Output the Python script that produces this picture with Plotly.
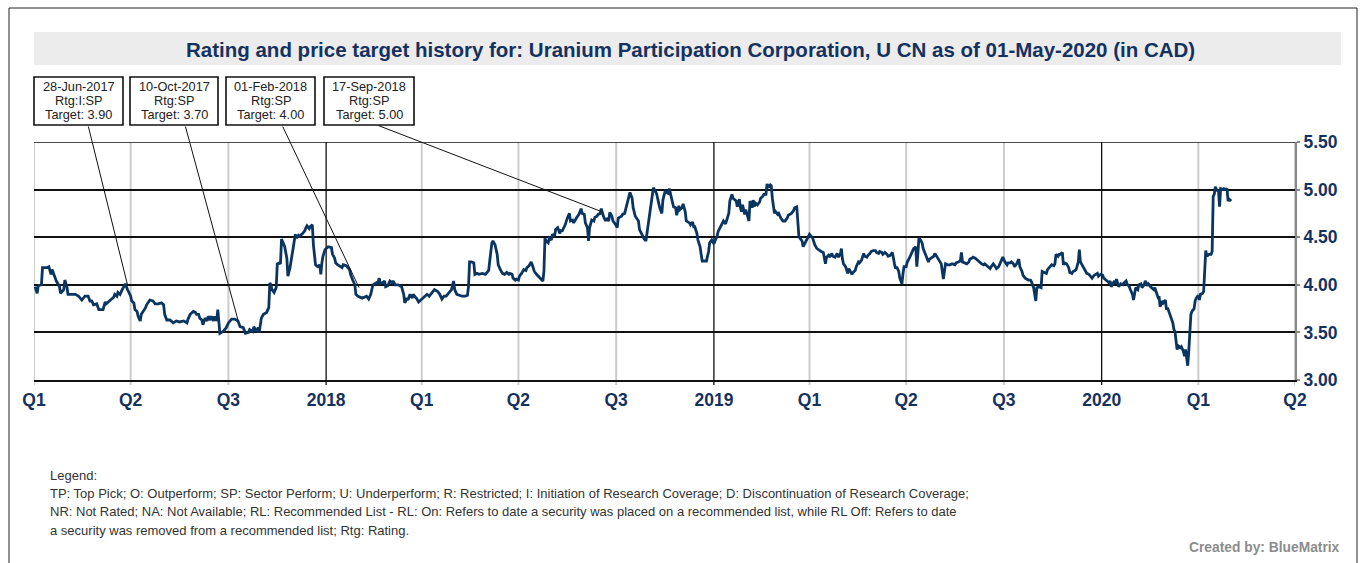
import pandas as pd
import plotly.graph_objects as go

# ---------------- data ----------------
start_date = pd.Timestamp("2017-04-01")
end_date = pd.Timestamp("2020-07-01")

# days after 2017-04-01 and closing price (CAD)
day_offsets = [
    1, 3, 4, 7, 8, 12, 14, 16, 17, 19, 21, 24, 25, 28, 29, 31, 32, 35, 39, 42, 45, 48, 51, 53, 54, 56, 59, 61,
    64, 65, 67, 68, 72, 75, 76, 78, 79, 81, 83, 86, 88, 90, 91, 92, 94, 95, 97, 98, 100, 101, 103, 105, 106,
    109, 112, 114, 117, 120, 122, 123, 125, 128, 131, 134, 137, 141, 144, 145, 147, 150, 152, 153, 155, 156,
    158, 159, 161, 163, 164, 166, 167, 169, 170, 172, 173, 174, 175, 178, 181,
    183, 186, 189, 192, 194, 197, 199, 202, 203, 206, 207, 209, 211, 212, 214, 216, 219, 221, 222, 223, 224,
    226, 228, 229, 231, 232, 233, 235, 236, 238, 239, 241, 243, 244, 246, 247, 249, 250, 253, 255, 256, 257,
    259, 260, 262, 263, 265, 267, 269, 270, 271, 272, 274, 277, 280, 281, 283, 284, 286, 288, 290, 291, 294,
    297, 298, 300, 302, 303, 305, 309, 312, 313, 315, 317, 319, 322, 323, 325, 326, 328, 330, 331, 333, 335,
    337, 338, 340, 343, 346, 348, 349, 351, 352, 354, 356, 357, 359, 360, 362, 363,
    366, 370, 372, 374, 377, 380, 382, 384, 386, 388, 391, 393, 395, 396, 398, 400, 403, 406, 408, 409, 410,
    412, 414, 415, 417, 419, 422, 425, 426, 428, 429, 431, 432, 434, 436, 437, 439, 441, 443, 445, 447, 448,
    450, 451, 453, 454, 456, 457, 459, 461, 463, 464, 466, 468, 469, 471, 473, 475, 477, 479, 480, 481, 482,
    484, 485, 487, 488, 490, 491, 493, 495, 496, 497, 499, 500, 502, 504, 505, 507, 508, 510, 511, 513, 515,
    516, 518, 519, 521, 522, 523, 525, 527, 528, 530, 531, 533, 534, 536, 538, 539, 541, 542, 544, 545, 547,
    549, 550, 553, 554, 556, 558, 560, 561, 563, 564, 566, 567, 569, 570, 572, 574, 576, 577, 578, 580, 581,
    583, 585, 586, 588, 589, 591, 592, 594, 596, 597, 598, 600, 601, 602, 604, 605, 607, 608, 610, 611, 613,
    614, 617, 618, 620, 621, 622, 624, 625, 627, 628, 629, 631, 633, 635, 636, 638, 640, 641, 643, 644, 646,
    647, 649, 651, 652, 654, 655, 657, 658, 660, 661, 662, 664, 665, 666, 667, 669, 670, 672, 673, 674, 676,
    677, 678, 679, 681, 683, 684, 686, 687, 689, 690, 691, 693, 694, 695, 697, 698, 700, 701, 703, 704, 705,
    707, 709, 710, 712, 713, 715, 716, 718, 719, 720, 721, 723, 724, 726, 727, 729, 730,
    733, 735, 737, 739, 741, 743, 745, 746, 748, 749, 751, 752, 754, 756, 757, 759, 760, 761, 762, 764, 766,
    767, 768, 770, 771, 773, 774, 776, 777, 779, 781, 782, 784, 785, 787, 788, 790, 792, 793, 795, 796, 798,
    799, 801, 803, 804, 806, 807, 808, 810, 811, 812, 814, 815, 817, 818, 819, 821, 822, 824, 825, 827, 828,
    830, 831, 832, 833, 834, 836, 837, 839, 840, 842, 843, 845, 847, 848, 850, 851, 853, 854, 856, 857, 858,
    860, 862, 864, 865, 867, 868, 870, 872, 873, 874, 876, 878, 880, 881, 883, 884, 886, 887, 889, 890, 892,
    894, 895, 897, 898, 900, 901, 903, 905, 906, 908, 909, 911, 912, 914, 916, 917, 919, 920, 922, 923, 925,
    927, 928, 930, 931, 933, 936,
    938, 939, 941, 942, 943, 944, 946, 948, 949, 951, 953, 954, 956, 958, 960, 961, 962, 964, 965, 966, 968,
    969, 970, 972, 974, 975, 977, 978, 980, 981, 983, 984, 985, 987, 988, 990, 991, 993, 995, 996, 998, 999,
    1001, 1002, 1004, 1006, 1007, 1009, 1010, 1012, 1013, 1014, 1016, 1017, 1018, 1019, 1020, 1021, 1023,
    1025, 1026, 1028, 1029, 1031, 1032, 1034, 1035, 1036, 1037, 1039, 1040, 1042, 1043, 1045, 1046, 1048,
    1049, 1051, 1052, 1054, 1055, 1057, 1058, 1059, 1060, 1062, 1063, 1065, 1066, 1067, 1069, 1070, 1072,
    1073, 1074, 1076, 1077, 1079, 1080, 1082, 1083, 1084, 1085, 1086, 1087, 1089, 1090, 1092, 1093, 1094,
    1096, 1097, 1098, 1100, 1101, 1102, 1103, 1104, 1106, 1108, 1109, 1110, 1111, 1112, 1113, 1115, 1116,
    1117, 1119, 1120, 1122, 1123, 1124, 1125, 1126, 1127,
]

prices = [
    3.98, 3.91, 3.99, 4.00, 4.18, 4.18, 4.19, 4.11, 4.16, 4.09, 4.04, 3.98, 3.91, 3.95, 4.05, 3.98, 3.90, 3.90,
    3.90, 3.88, 3.84, 3.88, 3.88, 3.82, 3.84, 3.79, 3.80, 3.74, 3.74, 3.74, 3.82, 3.80, 3.84, 3.87, 3.90, 3.88,
    3.92, 3.90, 3.95, 4.01, 3.95, 3.90, 3.88, 3.83, 3.81, 3.74, 3.72, 3.67, 3.62, 3.69, 3.72, 3.76, 3.79, 3.84,
    3.83, 3.80, 3.80, 3.81, 3.79, 3.69, 3.63, 3.63, 3.60, 3.62, 3.61, 3.62, 3.60, 3.64, 3.69, 3.72, 3.71, 3.69,
    3.69, 3.65, 3.63, 3.58, 3.65, 3.62, 3.67, 3.63, 3.67, 3.62, 3.67, 3.62, 3.74, 3.60, 3.49, 3.51, 3.55,
    3.60, 3.64, 3.64, 3.62, 3.56, 3.55, 3.49, 3.50, 3.53, 3.51, 3.56, 3.51, 3.55, 3.50, 3.65, 3.69, 3.71, 3.76,
    4.02, 4.00, 3.95, 3.92, 3.97, 4.22, 4.23, 4.22, 4.48, 4.42, 4.40, 4.28, 4.09, 4.18, 4.30, 4.39, 4.53, 4.49,
    4.52, 4.51, 4.54, 4.57, 4.60, 4.62, 4.59, 4.61, 4.63, 4.42, 4.21, 4.19, 4.21, 4.11, 4.23, 4.30, 4.37, 4.40,
    4.39, 4.32, 4.28, 4.23, 4.21, 4.19, 4.18, 4.21, 4.20, 4.16, 4.11, 4.05, 4.00, 3.90, 3.88, 3.86, 3.87, 3.88,
    3.85, 3.90, 4.00, 4.02, 4.00, 4.07, 4.01, 4.02, 4.04, 3.98, 3.99, 4.04, 4.02, 4.04, 4.00, 4.00, 3.98, 3.90,
    3.81, 3.86, 3.84, 3.90, 3.86, 3.90, 3.87, 3.86, 3.82, 3.83,
    3.86, 3.90, 3.88, 3.91, 3.95, 3.93, 3.90, 3.85, 3.88, 3.88, 3.93, 3.95, 4.04, 3.95, 3.90, 3.89, 3.88, 3.88,
    3.89, 3.98, 4.24, 4.24, 4.23, 4.11, 4.12, 4.11, 4.12, 4.11, 4.12, 4.15, 4.25, 4.44, 4.46, 4.42, 4.32, 4.21,
    4.16, 4.12, 4.11, 4.13, 4.11, 4.12, 4.11, 4.07, 4.05, 4.06, 4.05, 4.09, 4.12, 4.16, 4.15, 4.18, 4.20, 4.24,
    4.21, 4.14, 4.11, 4.09, 4.07, 4.04, 4.14, 4.49, 4.46, 4.44, 4.49, 4.47, 4.53, 4.51, 4.58, 4.60, 4.54, 4.58,
    4.56, 4.60, 4.63, 4.70, 4.75, 4.67, 4.68, 4.65, 4.70, 4.71, 4.74, 4.80, 4.75, 4.74, 4.65, 4.60, 4.46, 4.60,
    4.68, 4.67, 4.71, 4.72, 4.74, 4.75, 4.80, 4.72, 4.67, 4.70, 4.67, 4.76, 4.72, 4.67, 4.64,
    4.60, 4.70, 4.72, 4.74, 4.75, 4.84, 4.91, 4.97, 4.91, 4.81, 4.72, 4.70, 4.67, 4.58, 4.53, 4.49, 4.46, 4.54,
    4.65, 4.77, 4.89, 5.02, 4.98, 4.96, 4.86, 4.81, 4.75, 4.89, 4.98, 4.97, 4.96, 5.01, 4.91, 4.88, 4.82, 4.81,
    4.73, 4.83, 4.79, 4.81, 4.85, 4.77, 4.67, 4.65, 4.63, 4.66, 4.61, 4.61, 4.54, 4.47, 4.40, 4.32, 4.25, 4.25,
    4.25, 4.35, 4.44, 4.47, 4.43, 4.46, 4.51, 4.56, 4.60, 4.63, 4.67, 4.64, 4.68, 4.75, 4.88, 4.95, 4.91, 4.89,
    4.88, 4.82, 4.90, 4.81, 4.77, 4.84, 4.74, 4.79, 4.72, 4.67, 4.88, 4.81, 4.89, 4.82, 4.86, 4.84, 4.87, 4.91,
    4.93, 4.95, 4.95, 5.06, 5.03, 5.05, 5.04, 4.91, 4.75, 4.77, 4.74, 4.75, 4.70, 4.68, 4.67, 4.67, 4.70, 4.73,
    4.74, 4.75, 4.78, 4.81, 4.82, 4.67, 4.51, 4.49, 4.46, 4.40, 4.44, 4.47, 4.51, 4.53,
    4.49, 4.42, 4.38, 4.36, 4.35, 4.34, 4.22, 4.29, 4.31, 4.29, 4.33, 4.30, 4.29, 4.33, 4.29, 4.32, 4.38, 4.27,
    4.22, 4.19, 4.12, 4.17, 4.15, 4.11, 4.13, 4.15, 4.19, 4.24, 4.23, 4.26, 4.33, 4.30, 4.29, 4.31, 4.33, 4.35,
    4.36, 4.36, 4.34, 4.33, 4.35, 4.34, 4.32, 4.34, 4.32, 4.30, 4.31, 4.33, 4.34, 4.22, 4.17, 4.19, 4.14, 4.07,
    4.01, 4.12, 4.19, 4.19, 4.24, 4.28, 4.31, 4.36, 4.38, 4.40, 4.19, 4.33, 4.49, 4.48, 4.44, 4.38, 4.33, 4.29,
    4.24, 4.27, 4.29, 4.30, 4.33, 4.29, 4.27, 4.23, 4.22, 4.06, 4.12, 4.22, 4.21, 4.21, 4.22, 4.22, 4.21, 4.23,
    4.24, 4.25, 4.34, 4.24, 4.23, 4.22, 4.24, 4.27, 4.28, 4.29, 4.28, 4.27, 4.24, 4.23, 4.22, 4.21, 4.22, 4.20,
    4.19, 4.17, 4.19, 4.22, 4.19, 4.17, 4.19, 4.22, 4.26, 4.29, 4.24, 4.21, 4.23, 4.23, 4.24, 4.22, 4.19, 4.22,
    4.27, 4.19, 4.14, 4.10, 4.07, 4.05,
    4.05, 4.03, 3.97, 3.91, 3.83, 3.97, 3.98, 3.97, 4.14, 4.13, 4.12, 4.16, 4.18, 4.21, 4.20, 4.22, 4.32, 4.30,
    4.32, 4.32, 4.34, 4.21, 4.23, 4.22, 4.18, 4.13, 4.12, 4.14, 4.15, 4.16, 4.24, 4.37, 4.24, 4.19, 4.18, 4.14,
    4.12, 4.11, 4.09, 4.07, 4.10, 4.11, 4.12, 4.09, 4.11, 4.10, 4.07, 4.05, 4.04, 4.02, 4.04, 3.98, 4.02, 4.04,
    4.01, 4.06, 4.02, 3.98, 4.01, 4.00, 4.02, 4.04, 4.01, 3.98, 3.95, 3.90, 3.84, 3.92, 3.97, 3.95, 4.00, 4.01,
    3.97, 4.00, 4.04, 4.00, 4.01, 3.98, 3.97, 3.95, 3.97, 3.91, 3.87, 3.88, 3.77, 3.83, 3.81, 3.84, 3.74, 3.76,
    3.69, 3.67, 3.60, 3.53, 3.51, 3.32, 3.36, 3.34, 3.35, 3.30, 3.25, 3.32, 3.23, 3.15, 3.30, 3.69, 3.72, 3.75,
    3.83, 3.86, 3.89, 3.84, 3.90, 3.91, 3.93, 4.14, 4.36, 4.30, 4.32, 4.32, 4.35, 4.93, 4.95, 5.03, 5.00, 4.98,
    4.82, 5.01, 5.00, 5.01, 5.00, 5.01, 4.88, 4.90, 4.89, 4.88,
]

tick_dates = ["2017-04-01", "2017-07-01", "2017-10-01", "2018-01-01", "2018-04-01", "2018-07-01",
              "2018-10-01", "2019-01-01", "2019-04-01", "2019-07-01", "2019-10-01", "2020-01-01",
              "2020-04-01", "2020-07-01"]
tick_labels = ["Q1", "Q2", "Q3", "2018", "Q1", "Q2", "Q3", "2019", "Q1", "Q2", "Q3", "2020", "Q1", "Q2"]
year_dates = ["2018-01-01", "2019-01-01", "2020-01-01"]
y_ticks = [3.00, 3.50, 4.00, 4.50, 5.00, 5.50]

ann_dates = ["2017-06-28", "2017-10-10", "2018-02-01", "2018-09-17"]
ann_ratings = ["I:SP", "SP", "SP", "SP"]
ann_targets = [3.90, 3.70, 4.00, 5.00]
ann_prices = [4.00, 3.63, 3.97, 4.77]

title_text = ("Rating and price target history for: Uranium Participation Corporation, "
              "U CN as of 01-May-2020 (in CAD)")
legend_lines = [
    "Legend:",
    "TP: Top Pick; O: Outperform; SP: Sector Perform; U: Underperform; R: Restricted; I: Initiation of "
    "Research Coverage; D: Discontinuation of Research Coverage;",
    "NR: Not Rated; NA: Not Available; RL: Recommended List - RL: On: Refers to date a security was placed "
    "on a recommended list, while RL Off: Refers to date",
    "a security was removed from a recommended list; Rtg: Rating.",
]
credit_text = "Created by: BlueMatrix"

# ---------------- layout geometry (pixels) ----------------
W, H = 1363, 563
PL, PR, PT, PB = 34, 1295, 142, 380       # plot area edges
Y_MIN, Y_MAX = 3.0, 5.5
NAVY = "#15325f"
LINE = "#0b3561"
FONT = "Arial, Liberation Sans, sans-serif"


def px_x(px):
    return (px - PL) / (PR - PL)


def px_y(py):
    return (PB - py) / (PB - PT)


def data_px(date, value):
    frac = (pd.Timestamp(date) - start_date) / (end_date - start_date)
    return PL + frac * (PR - PL), PB - (value - Y_MIN) / (Y_MAX - Y_MIN) * (PB - PT)


dates = start_date + pd.to_timedelta(day_offsets, unit="D")

fig = go.Figure()
fig.add_trace(go.Scatter(x=dates, y=prices, mode="lines",
                         line=dict(color=LINE, width=2.8), hoverinfo="x+y"))

shapes = []
annotations = []
# outer frame
shapes.append(dict(type="rect", xref="paper", yref="paper",
                   x0=px_x(9), x1=px_x(1357), y0=px_y(600), y1=px_y(8),
                   line=dict(color="#222", width=1), fillcolor="rgba(0,0,0,0)", layer="below"))
# title band
shapes.append(dict(type="rect", xref="paper", yref="paper",
                   x0=px_x(34), x1=px_x(1341), y0=px_y(65), y1=px_y(32),
                   line=dict(width=0), fillcolor="#ececec", layer="below"))
# vertical grid lines (quarters grey, years black), extending a few px below the axis as ticks
tick_ext = -5 / (PB - PT)
for d in tick_dates:
    is_year = d in year_dates
    shapes.append(dict(type="line", xref="x", yref="paper", x0=d, x1=d, y0=tick_ext, y1=1,
                       line=dict(color="#111" if is_year else "#cccccc", width=1.3 if is_year else 2),
                       layer="between"))
# top horizontal line at the range maximum
shapes.append(dict(type="line", xref="paper", yref="y", x0=0, x1=1, y0=Y_MAX, y1=Y_MAX,
                   line=dict(color="#111", width=1.5), layer="between"))

annotations.append(dict(text="<b>" + title_text + "</b>", xref="paper", yref="paper",
                        x=px_x(690), y=px_y(49), showarrow=False, xanchor="center", yanchor="middle",
                        font=dict(family=FONT, size=20.5, color=NAVY)))

# rating / target call-out boxes with leader lines
box_left = [34, 130, 226, 324]
box_right = [123, 218, 315, 414]
leader_start = [88, 185, 282, 377]
BOX_TOP, BOX_BOT = 77, 125
for d, r, t, p, x0, x1, ls in zip(ann_dates, ann_ratings, ann_targets, ann_prices,
                                   box_left, box_right, leader_start):
    tx, ty = data_px(d, p)
    annotations.append(dict(x=d, y=p, xref="x", yref="y", text="", showarrow=True,
                            ax=ls - tx, ay=BOX_BOT - ty, axref="pixel", ayref="pixel",
                            arrowhead=0, arrowwidth=1, arrowcolor="#111", standoff=0))
    shapes.append(dict(type="rect", xref="paper", yref="paper",
                       x0=px_x(x0), x1=px_x(x1), y0=px_y(BOX_BOT), y1=px_y(BOX_TOP),
                       line=dict(color="#111", width=1.6), fillcolor="white", layer="above"))
    lines = [f"{pd.Timestamp(d):%d-%b-%Y}", f"Rtg:{r}", f"Target: {t:.2f}"]
    for j, s in enumerate(lines):
        annotations.append(dict(text=s, xref="paper", yref="paper",
                                x=px_x((x0 + x1) / 2), y=px_y(87 + 14 * j),
                                showarrow=False, xanchor="center", yanchor="middle",
                                font=dict(family=FONT, size=12.75, color="#222")))

for i, line in enumerate(legend_lines):
    annotations.append(dict(text=line, xref="paper", yref="paper", x=px_x(48), y=px_y(475 + 18.4 * i),
                            showarrow=False, xanchor="left", yanchor="middle",
                            font=dict(family=FONT, size=13.0, color="#333")))

annotations.append(dict(text="<b>" + credit_text + "</b>", xref="paper", yref="paper",
                        x=px_x(1342), y=px_y(547), showarrow=False, xanchor="right", yanchor="middle",
                        font=dict(family=FONT, size=13.8, color="#8c8c8c")))

fig.update_layout(
    width=W, height=H,
    margin=dict(l=PL, r=W - PR, t=PT, b=H - PB, pad=0),
    paper_bgcolor="white", plot_bgcolor="white",
    showlegend=False,
    shapes=shapes, annotations=annotations,
    xaxis=dict(type="date", range=[start_date, end_date], tickmode="array",
               tickvals=tick_dates, ticktext=tick_labels,
               showgrid=False, ticks="", ticklabelstandoff=3,
               showline=True, linecolor="#111", linewidth=1.5,
               tickfont=dict(family=FONT, size=17.5, color=NAVY, weight="bold"),
               zeroline=False, fixedrange=True),
    yaxis=dict(side="right", range=[Y_MIN, Y_MAX], tickmode="array",
               tickvals=y_ticks, ticktext=[f"{v:.2f}" for v in y_ticks],
               showgrid=True, gridcolor="#111", gridwidth=1.5,
               ticks="outside", ticklen=3, tickwidth=1.5, tickcolor="#888",
               showline=True, linecolor="#888", linewidth=2, mirror=False,
               tickfont=dict(family=FONT, size=17.5, color=NAVY, weight="bold"),
               zeroline=False, fixedrange=True),
)

fig.write_html("out.html", config={"displayModeBar": False},
               post_script="document.body.style.margin='0';")
